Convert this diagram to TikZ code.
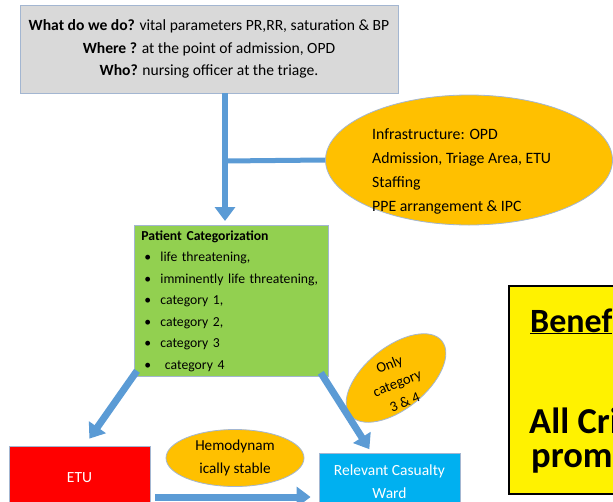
\documentclass[tikz,border=0pt]{standalone}
\usepackage{fontspec}
\setmainfont{Carlito}
\usetikzlibrary{arrows.meta,shapes.geometric}

\definecolor{boxgrey}{HTML}{D9D9D9}
\definecolor{edgeblue}{HTML}{A3B6D1}
\definecolor{arrowblue}{HTML}{5B9BD5}
\definecolor{catgreen}{HTML}{92D050}
\definecolor{ellorange}{HTML}{FFC000}
\definecolor{wardblue}{HTML}{00B0F0}

\newcommand{\catpoint}{\hspace*{3pt}\makebox[16pt][l]{\textbullet}}

\tikzset{
  infobox/.style={rectangle, draw=edgeblue, line width=0.8pt},
  orangeell/.style={ellipse, draw=edgeblue, line width=0.8pt, fill=ellorange, inner sep=0pt},
  flow/.style={draw=arrowblue, line width=7pt, -{Triangle[width=20pt,length=14pt]}},
}

\begin{document}
\begin{tikzpicture}[x=1pt,y=-1pt]
  \useasboundingbox (0,0) rectangle (613,501);
  \clip (0,0) rectangle (613,501);

  % triage box
  \node[infobox, fill=boxgrey, minimum width=378pt, minimum height=88pt, align=center,
        font=\fontsize{15.6}{22.5}\selectfont] (triage) at (209,49)
    {\textbf{What do we do?} vital parameters PR,RR, saturation \& BP\\
     \textbf{Where ?} at the point of admission, OPD\\
     \textbf{Who?} nursing officer at the triage.};

  % infrastructure
  \node[orangeell, minimum width=287pt, minimum height=130pt] (infra) at (469,160) {};
  \node[anchor=west, align=left, inner sep=0pt, font=\fontsize{15.8}{24}\selectfont] (infralist) at (372,171)
    {Infrastructure: OPD\\ Admission, Triage Area, ETU\\ Staffing\\ PPE arrangement \& IPC};

  % categorization
  \node[infobox, fill=catgreen, anchor=north west, minimum width=194pt, minimum height=151pt,
        text width=180pt, inner xsep=7pt, align=left, font=\fontsize{13.7}{21.5}\selectfont] (categ) at (134,225)
    {\textbf{Patient Categorization}\\
     \catpoint life threatening,\\
     \catpoint imminently life threatening,\\
     \catpoint category 1,\\
     \catpoint category 2,\\
     \catpoint category 3\\
     \catpoint\ category 4};

  % destinations
  \node[infobox, fill=red, minimum width=141pt, minimum height=64pt, text=white,
        font=\fontsize{15.5}{22}\selectfont] (etu) at (79.5,478) {ETU};
  \node[infobox, fill=wardblue, minimum width=141pt, minimum height=57pt, text=white, align=center,
        font=\fontsize{15.5}{23}\selectfont] (ward) at (389.5,481.5) {Relevant Casualty\\Ward};

  \node[orangeell, minimum width=138pt, minimum height=57pt, align=center,
        font=\fontsize{15.2}{23}\selectfont] (stable) at (235,458) {Hemodynam\\ically stable};
  \node[orangeell, rotate=39, minimum width=118pt, minimum height=62pt] (only) at (396,378) {};
  \node[rotate=22, align=center, inner sep=0pt, font=\fontsize{14.5}{20.5}\selectfont] (onlytxt) at (397,383)
    {Only\\category\\3 \& 4};

  % benefits
  \node[draw=black, line width=1.8pt, fill=yellow, anchor=north west, minimum width=200pt,
        minimum height=208pt] (benefits) at (508,285) {};
  \node[anchor=base west, inner sep=0pt, font=\fontsize{34}{34}\bfseries] (bentitle) at (530,332) {\underline{Benef}};
  \node[anchor=base west, inner sep=0pt, font=\fontsize{36.5}{36}\bfseries] (critline) at (529,433) {All Cri};
  \node[anchor=base west, inner sep=0pt, font=\fontsize{36.5}{36}\bfseries] (promline) at (531,467) {prom};

  % connectors
  \coordinate (branch) at (225,161);
  \coordinate (low) at (0,497);
  \draw[flow, line width=6pt, shorten >=4pt] (triage.south -| branch) -- (categ.north -| branch);
  \draw[arrowblue, line width=5pt] (branch) -- (infra.west);
  \draw[flow, shorten >=8.5pt] ([shift={(3pt,6pt)}]categ.south west) -- ([xshift=5pt]etu.north);
  \draw[flow, shorten >=4pt] ([shift={(-8pt,4pt)}]categ.south east) -- ([xshift=-18pt]ward.north);
  \draw[flow, shorten <=5pt, shorten >=8pt] (etu.east |- low) -- (ward.west |- low);
\end{tikzpicture}
\end{document}
